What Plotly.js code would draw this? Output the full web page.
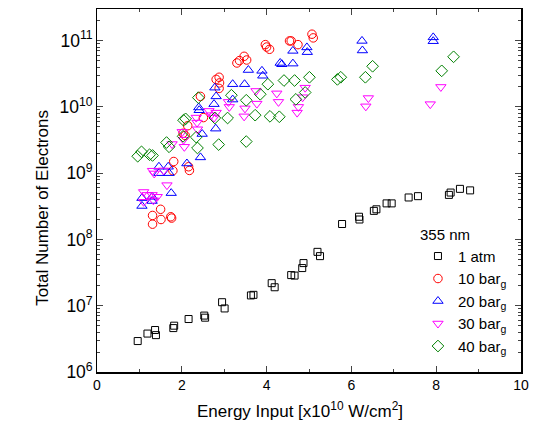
<!DOCTYPE html>
<html>
<head>
<meta charset="utf-8">
<script src="https://cdn.plot.ly/plotly-3.0.1.min.js"></script>
<style>html,body{margin:0;padding:0;background:#fff;}#chart{width:540px;height:433px;}</style>
</head>
<body>
<div id="chart"></div>
<script>
// 1 atm
const atmX = [0.96,1.19,1.37,1.39,1.80,1.82,2.16,2.53,2.55,2.95,3.01,3.63,3.69,4.12,4.19,4.58,4.66,4.84,4.87,5.20,5.26,5.78,6.18,6.19,6.53,6.59,6.83,6.95,7.35,7.57,8.30,8.34,8.56,8.80];
const atmY = [2.93e6,3.8e6,4.3e6,3.6e6,4.6e6,5.0e6,6.3e6,7.1e6,6.6e6,1.13e7,9.1e6,1.43e7,1.46e7,2.19e7,1.9e7,2.9e7,2.85e7,3.7e7,4.4e7,6.5e7,5.6e7,1.71e8,2.2e8,2.0e8,2.7e8,2.85e8,3.5e8,3.5e8,4.3e8,4.5e8,4.7e8,5.1e8,5.8e8,5.5e8];
// 10 bar_g
const b10X = [5.07,5.10,4.54,4.58,4.74,3.97,4.00,4.07,3.30,3.36,3.47,3.53,2.81,2.88,2.89,2.88,2.44,2.51,2.14,2.08,2.03,1.81,1.79,2.16,2.18,1.31,1.50,1.51,1.31,1.74,1.76];
const b10Y = [1.25e11,1.1e11,9.9e10,9.9e10,8.7e10,8.7e10,8.0e10,7.4e10,4.6e10,5.0e10,5.8e10,5.1e10,2.6e10,2.8e10,2.3e10,1.9e10,1.44e10,6.9e9,5.2e9,3.7e9,4.0e9,1.5e9,1.09e9,1.25e9,1.1e9,2.3e8,2.85e8,2.0e8,1.7e8,2.2e8,2.1e8];
// 20 bar_g
const b20X = [7.93,7.93,6.25,6.26,4.95,4.96,4.62,4.32,4.36,4.62,3.89,3.91,3.57,3.20,3.48,2.78,2.81,2.76,3.20,2.40,2.41,2.80,2.48,2.44,2.12,1.46,1.46,1.68,1.70,1.75,1.06,1.30,1.06,1.30];
const b20Y = [1.12e11,9.8e10,9.9e10,7.1e10,7.9e10,6.7e10,7.0e10,4.6e10,4.4e10,4.5e10,3.5e10,2.95e10,3.6e10,2.2e10,2.2e10,1.95e10,1.44e10,1.1e10,1.29e10,9.8e9,8.9e9,4.7e9,3.9e9,1.73e9,1.4e9,1.25e9,1.0e9,1.25e9,1.0e9,5.0e8,4.2e8,4.4e8,3.2e8,3.8e8];
// 30 bar_g
const b30X = [8.11,7.86,6.40,6.34,4.91,4.85,4.75,4.72,4.24,4.28,3.75,3.77,3.49,3.47,3.10,3.12,2.64,2.69,2.81,2.76,2.34,2.36,2.37,2.01,2.04,2.06,1.77,1.31,1.35,1.57,1.65,1.10,1.18,1.30,1.42,1.10,1.33];
const b30Y = [2.0e10,1.1e10,1.36e10,1.02e10,1.95e10,1.4e10,1.0e10,8.2e9,1.6e10,1.19e10,1.74e10,1.12e10,9.5e9,7.2e9,1.19e10,1.0e10,8.7e9,7.5e9,8.2e9,6.9e9,6.9e9,5.8e9,4.6e9,4.2e9,3.2e9,2.5e9,2.75e9,1.09e9,9.9e8,1.1e9,6.6e8,5.2e8,4.7e8,4.7e8,4.4e8,3.7e8,3.9e8];
// 40 bar_g
const b40X = [8.41,8.13,6.50,6.33,5.67,5.75,5.01,4.91,4.69,4.41,4.66,4.03,3.85,3.52,3.73,4.08,4.30,3.52,3.17,3.08,2.87,2.78,2.39,2.34,2.37,2.04,2.09,2.03,1.64,1.70,1.24,1.31,0.96,1.05];
const b40Y = [5.7e10,3.5e10,4.1e10,2.8e10,2.6e10,2.8e10,2.8e10,1.65e10,1.3e10,2.5e10,2.5e10,2.2e10,1.55e10,1.26e10,7.5e9,7.2e9,7.1e9,3.0e9,1.5e10,6.8e9,2.7e9,6.8e9,1.38e10,3.5e9,2.4e9,6.3e9,6.6e9,3.6e9,2.9e9,2.5e9,1.9e9,1.85e9,1.8e9,2.1e9];

const names = ['1 atm','10 bar<sub>g</sub>','20 bar<sub>g</sub>','30 bar<sub>g</sub>','40 bar<sub>g</sub>'];
const legendTitle = '355 nm';
const xTitle = 'Energy Input [x10<sup>10</sup> W/cm<sup>2</sup>]';
const yTitle = 'Total Number of Electrons';
const series = [[atmX,atmY],[b10X,b10Y],[b20X,b20Y],[b30X,b30Y],[b40X,b40Y]];
const colors = ['#000000','#ff0000','#0000ff','#ff00ff','#008000'];
const symbols = ['square-open','circle-open','triangle-up-open','triangle-down-open','diamond-open'];
const sizes = [7,8.5,9,9,9];

const traces = series.map((s,i)=>({
  x: s[0], y: s[1], type:'scatter', mode:'markers', name: names[i],
  marker:{symbol:symbols[i], size:sizes[i], color:colors[i], line:{width:1, color:colors[i]}}
}));

const font = {family:'Liberation Sans, Arial, sans-serif', color:'#000'};
const layout = {
  width:540, height:433,
  margin:{l:96.5, r:18.5, t:9, b:60.7},
  paper_bgcolor:'#fff', plot_bgcolor:'#fff',
  font: Object.assign({size:14}, font),
  showlegend:true,
  legend:{x:0.757, y:0.418, xanchor:'left', yanchor:'top', bgcolor:'rgba(0,0,0,0)',
    font: Object.assign({size:15}, font),
    title:{text:legendTitle, font:Object.assign({size:15}, font)},
    itemwidth:30, tracegroupgap:0},
  xaxis:{range:[0,10], dtick:2, tick0:0, ticks:'inside', ticklen:6, tickwidth:1,
    showline:true, linecolor:'#000', linewidth:1.5, mirror:'ticks', showgrid:false, zeroline:false,
    tickfont:Object.assign({size:14}, font),
    minor:{dtick:1, ticks:'inside', ticklen:3, tickwidth:1, showgrid:false}},
  yaxis:{type:'log', range:[6, Math.log10(3e11)], dtick:1, ticks:'inside', ticklen:6, tickwidth:1,
    exponentformat:'power', showline:true, linecolor:'#000', linewidth:1.5, mirror:'ticks',
    showgrid:false, zeroline:false,
    tickfont:Object.assign({size:14}, font),
    minor:{dtick:'D1', ticks:'inside', ticklen:3, tickwidth:1, showgrid:false}},
  annotations:[
    {text:xTitle, xref:'paper', yref:'paper', x:0.4776, y:-0.104, xanchor:'center', yanchor:'middle',
     showarrow:false, font:Object.assign({size:17}, font)},
    {text:yTitle, xref:'paper', yref:'paper', x:-0.128, y:0.452, xanchor:'center', yanchor:'middle',
     textangle:-90, showarrow:false, font:Object.assign({size:17}, font)}
  ]
};
Plotly.newPlot('chart', traces, layout, {staticPlot:true, displayModeBar:false});
</script>
</body>
</html>
